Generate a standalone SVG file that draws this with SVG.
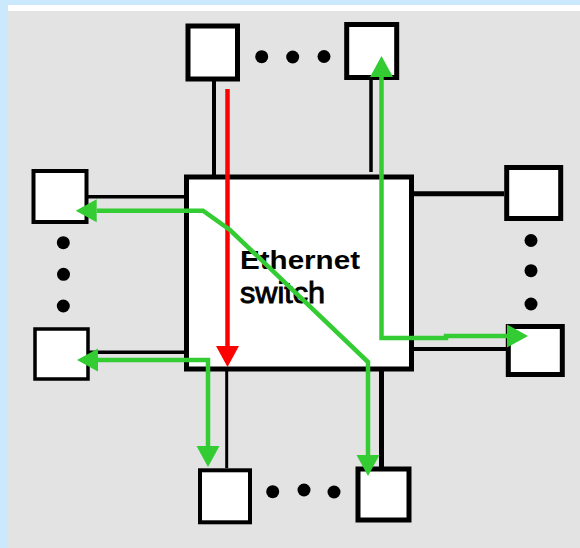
<svg xmlns="http://www.w3.org/2000/svg" width="580" height="548" viewBox="0 0 580 548">
<defs>
<style>
.node rect{fill:#fff;stroke:#000;stroke-width:5}
.wire{stroke:#000;fill:none}
.dot{fill:#000}
.g{fill:none;stroke:#33cc33;stroke-width:4.5}
.r{fill:none;stroke:#ff0000;stroke-width:4.5}
.t{font-family:"Liberation Sans",Arial,sans-serif;fill:#000}
</style>
<marker id="ag" markerUnits="userSpaceOnUse" markerWidth="22" markerHeight="24" viewBox="0 -12 22 24" refX="0" refY="0" orient="auto-start-reverse">
<path d="M0,-11.5 L21,0 L0,11.5 z" fill="#33cc33"/>
</marker>
<marker id="ar" markerUnits="userSpaceOnUse" markerWidth="22" markerHeight="24" viewBox="0 -12 22 24" refX="0" refY="0" orient="auto">
<path d="M0,-11.5 L21,0 L0,11.5 z" fill="#ff0000"/>
</marker>
</defs>
<rect x="0" y="0" width="580" height="548" fill="#cbe9fd"/>
<rect x="8" y="5" width="572" height="6" fill="#ffffff"/>
<rect x="8" y="11" width="572" height="537" fill="#e3e3e3"/>

<g id="links">
<line class="wire" x1="214" y1="81" x2="214" y2="175" stroke-width="4"/>
<line class="wire" x1="371" y1="80" x2="371" y2="172" stroke-width="3.5"/>
<line class="wire" x1="86" y1="196.7" x2="184" y2="196.7" stroke-width="3.5"/>
<line class="wire" x1="88" y1="352.3" x2="184" y2="352.3" stroke-width="3.5"/>
<line class="wire" x1="414" y1="193.7" x2="504" y2="193.7" stroke-width="5"/>
<line class="wire" x1="414" y1="349" x2="506" y2="349" stroke-width="4"/>
<line class="wire" x1="226.7" y1="371" x2="226.7" y2="468" stroke-width="3"/>
<line class="wire" x1="381.5" y1="371" x2="381.5" y2="467" stroke-width="5"/>
</g>

<g id="switch" class="node">
<rect x="186.5" y="177" width="225" height="192"/>
<text class="t" x="240" y="269" font-size="26" font-weight="bold" textLength="120" lengthAdjust="spacingAndGlyphs">Ethernet</text>
<text class="t" x="240" y="302.5" font-size="29" textLength="85" lengthAdjust="spacingAndGlyphs" stroke="#000" stroke-width="0.9">switch</text>
</g>

<g id="host-top-left" class="node"><rect x="188" y="26" width="49.5" height="53"/></g>
<g id="host-top-right" class="node"><rect x="346.7" y="24.5" width="50" height="53"/></g>
<g id="host-left-top" class="node"><rect x="33.5" y="171" width="53" height="51" style="stroke-width:4"/></g>
<g id="host-left-bottom" class="node"><rect x="35" y="329" width="53" height="50" style="stroke-width:3.5"/></g>
<g id="host-right-top" class="node"><rect x="506.7" y="167.5" width="54" height="51"/></g>
<g id="host-right-bottom" class="node"><rect x="508.3" y="326.5" width="54" height="48"/></g>
<g id="host-bottom-left" class="node"><rect x="200" y="470.3" width="50" height="52" style="stroke-width:4"/></g>
<g id="host-bottom-right" class="node"><rect x="358" y="469" width="51" height="51"/></g>

<g id="ellipses">
<circle class="dot" cx="261.7" cy="56.7" r="6.5"/>
<circle class="dot" cx="292.7" cy="57" r="6.5"/>
<circle class="dot" cx="324" cy="56.5" r="6.5"/>
<circle class="dot" cx="63.3" cy="242.7" r="6.5"/>
<circle class="dot" cx="63.5" cy="274.3" r="6.5"/>
<circle class="dot" cx="63.3" cy="306" r="6.5"/>
<circle class="dot" cx="531" cy="240.5" r="6.5"/>
<circle class="dot" cx="531" cy="270.7" r="6.5"/>
<circle class="dot" cx="531" cy="304" r="6.5"/>
<circle class="dot" cx="272.7" cy="491.7" r="6.5"/>
<circle class="dot" cx="304" cy="490" r="6.5"/>
<circle class="dot" cx="334" cy="492" r="6.5"/>
</g>

<g id="flows">
<path class="r" d="M227.5,89 V346" marker-end="url(#ar)"/>
<path class="g" d="M381.5,77 V338 H446 V336 H507" marker-start="url(#ag)" marker-end="url(#ag)"/>
<path class="g" d="M96.7,210.7 H203 L230,230 L368,362 V455" marker-start="url(#ag)" marker-end="url(#ag)"/>
<path class="g" d="M98,360 H208 V446" marker-start="url(#ag)" marker-end="url(#ag)"/>
</g>
</svg>
